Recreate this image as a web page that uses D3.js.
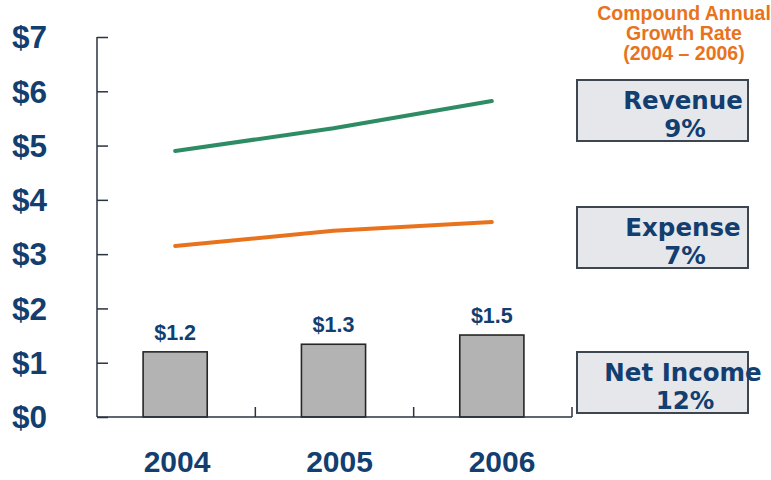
<!DOCTYPE html>
<html>
<head>
<meta charset="utf-8">
<script src="https://cdn.jsdelivr.net/npm/d3@7"></script>
<style>
  html, body { margin: 0; padding: 0; background: #fff; }
  svg { display: block; }
</style>
</head>
<body>
<div id="chart"></div>
<script>
// chart values
const years = ['2004', '2005', '2006'];
const netIncome = [1.2, 1.34, 1.51];
const revenue = [4.9, 5.32, 5.82];
const expense = [3.15, 3.43, 3.59];
const yTicks = [0, 1, 2, 3, 4, 5, 6, 7];
const titleLines = ['Compound Annual', 'Growth Rate', '(2004 \u2013 2006)'];
const boxNames = ['Revenue', 'Expense', 'Net Income'];
const boxRates = ['9%', '7%', '12%'];

const width = 771;
const height = 480;
const navy = '#123e70';
const orange = '#e8731c';
const green = '#2e8c64';
const axisColor = '#2a3340';
// top edge of each growth box, in pixels
const boxTop = { Revenue: 80, Expense: 207, 'Net Income': 352 };

const svg = d3
  .select('#chart')
  .append('svg')
  .attr('width', width)
  .attr('height', height)
  .attr('viewBox', [0, 0, width, height].join(' '));

const x = d3.scaleBand().domain(years).range([97, 572]).paddingInner(0).paddingOuter(0);
const xLabel = d3.scalePoint().domain(years).range([177, 502]);
const y = d3.scaleLinear().domain([0, 7]).range([417, 37]);
const barWidth = x.bandwidth() * 0.405;
const center = (year) => x(year) + x.bandwidth() / 2;

// bars first so the axes sit on top of them
const bars = svg.append('g').attr('class', 'bars');
bars
  .selectAll('rect')
  .data(years)
  .join('rect')
  .attr('x', (d) => center(d) - barWidth / 2 - 1)
  .attr('y', (d, i) => y(netIncome[i]))
  .attr('width', barWidth)
  .attr('height', (d, i) => y(0) - y(netIncome[i]))
  .attr('fill', '#b3b3b3')
  .attr('stroke', '#262626')
  .attr('stroke-width', 1.6);

bars
  .selectAll('text')
  .data(years)
  .join('text')
  .attr('x', (d) => center(d) - 1)
  .attr('y', (d, i) => y(netIncome[i]) - 12)
  .attr('text-anchor', 'middle')
  .attr('font-family', '"Liberation Sans", Arial, sans-serif')
  .attr('font-weight', 'bold')
  .attr('font-size', 21.5)
  .attr('fill', navy)
  .text((d, i) => '$' + d3.format('.1f')(netIncome[i]));

// y axis: line with inward ticks, labels drawn separately at the far left
const yAxis = svg
  .append('g')
  .attr('transform', `translate(${x.range()[0]},0)`)
  .call(d3.axisRight(y).tickValues(yTicks).tickSize(11).tickFormat(''));
yAxis.select('.domain').attr('d', `M0,${y(7)}V${y(0)}`).attr('stroke', axisColor).attr('stroke-width', 1.5);
yAxis.selectAll('.tick line').attr('stroke', axisColor).attr('stroke-width', 1.5);

svg
  .append('g')
  .selectAll('text')
  .data(yTicks)
  .join('text')
  .attr('x', 12)
  .attr('y', (d) => y(d))
  .attr('dy', '0.36em')
  .attr('font-family', '"Liberation Sans", Arial, sans-serif')
  .attr('font-weight', 'bold')
  .attr('font-size', 31.5)
  .attr('fill', navy)
  .text((d) => '$' + d);

// x axis: baseline with small upward ticks at band edges
const xAxis = svg.append('g').attr('transform', `translate(0,${y(0)})`);
xAxis
  .append('line')
  .attr('x1', x.range()[0])
  .attr('x2', x.range()[1])
  .attr('stroke', axisColor)
  .attr('stroke-width', 1.5);
xAxis
  .selectAll('.edge')
  .data(years)
  .join('line')
  .attr('class', 'edge')
  .attr('x1', (d) => x(d) + x.bandwidth())
  .attr('x2', (d) => x(d) + x.bandwidth())
  .attr('y1', 0)
  .attr('y2', -10)
  .attr('stroke', axisColor)
  .attr('stroke-width', 1.5);

svg
  .append('g')
  .selectAll('text')
  .data(years)
  .join('text')
  .attr('x', (d) => xLabel(d))
  .attr('y', 472)
  .attr('text-anchor', 'middle')
  .attr('font-family', '"Liberation Sans", Arial, sans-serif')
  .attr('font-weight', 'bold')
  .attr('font-size', 30)
  .attr('fill', navy)
  .text((d) => d);

// trend lines
const line = d3
  .line()
  .x((d, i) => center(years[i]) - 1)
  .y((d) => y(d));

[
  [revenue, green],
  [expense, orange],
].forEach(([values, color]) => {
  svg
    .append('path')
    .datum(values)
    .attr('d', line)
    .attr('fill', 'none')
    .attr('stroke', color)
    .attr('stroke-width', 4)
    .attr('stroke-linecap', 'round');
});

// growth rate title
svg
  .append('text')
  .attr('font-family', '"Liberation Sans", Arial, sans-serif')
  .attr('font-weight', 'bold')
  .attr('font-size', 19.5)
  .attr('fill', orange)
  .attr('text-anchor', 'middle')
  .selectAll('tspan')
  .data(titleLines)
  .join('tspan')
  .attr('x', 684)
  .attr('y', (d, i) => 20 + i * 20)
  .text((d) => d);

// growth boxes
const boxes = svg
  .append('g')
  .selectAll('g')
  .data(boxNames)
  .join('g')
  .attr('transform', (d) => `translate(577,${boxTop[d]})`);

boxes
  .append('rect')
  .attr('width', 171)
  .attr('height', 61)
  .attr('fill', '#e6e7ea')
  .attr('stroke', '#3d4550')
  .attr('stroke-width', 2);

boxes
  .append('text')
  .attr('x', 106)
  .attr('y', 29)
  .attr('text-anchor', 'middle')
  .attr('font-family', '"DejaVu Sans", Verdana, sans-serif')
  .attr('font-weight', 'bold')
  .attr('font-size', 24.5)
  .attr('fill', navy)
  .text((d) => d);

boxes
  .append('text')
  .attr('x', 108)
  .attr('y', 57)
  .attr('text-anchor', 'middle')
  .attr('font-family', '"DejaVu Sans", Verdana, sans-serif')
  .attr('font-weight', 'bold')
  .attr('font-size', 24.5)
  .attr('fill', navy)
  .text((d, i) => boxRates[i]);
</script>
</body>
</html>
